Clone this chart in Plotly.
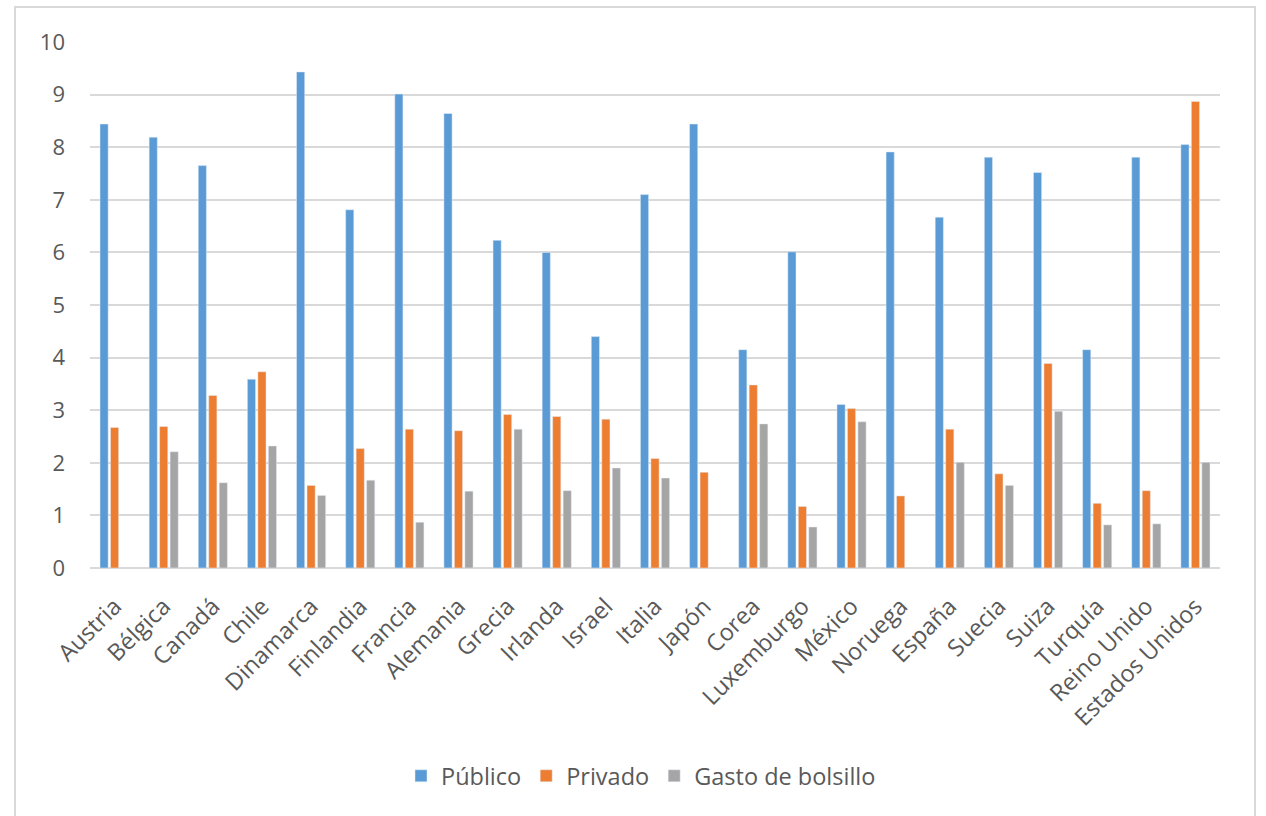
import plotly.graph_objects as go

paises = ["Austria", "Bélgica", "Canadá", "Chile", "Dinamarca", "Finlandia", "Francia",
          "Alemania", "Grecia", "Irlanda", "Israel", "Italia", "Japón", "Corea",
          "Luxemburgo", "México", "Noruega", "España", "Suecia", "Suiza", "Turquía",
          "Reino Unido", "Estados Unidos"]
publico = [8.44, 8.19, 7.65, 3.59, 9.43, 6.81, 9.01, 8.64, 6.23, 6.00, 4.40, 7.10, 8.44,
           4.15, 6.01, 3.11, 7.91, 6.67, 7.81, 7.52, 4.15, 7.81, 8.05]
privado = [2.67, 2.69, 3.28, 3.73, 1.57, 2.27, 2.64, 2.61, 2.92, 2.88, 2.83, 2.08, 1.82,
           3.48, 1.17, 3.03, 1.37, 2.64, 1.79, 3.89, 1.23, 1.47, 8.87]
bolsillo = [None, 2.21, 1.62, 2.32, 1.38, 1.67, 0.87, 1.46, 2.64, 1.47, 1.90, 1.71, None,
            2.74, 0.78, 2.78, None, 2.01, 1.57, 2.98, 0.82, 0.84, 2.01]
y_ticks = [0, 1, 2, 3, 4, 5, 6, 7, 8, 9, 10]

FONT = "Open Sans"
TXT = "#595959"

fig = go.Figure()
fig.add_trace(go.Bar(name="Público", x=paises, y=publico, marker_color="#5B9BD5"))
fig.add_trace(go.Bar(name="Privado", x=paises, y=privado, marker_color="#ED7D31"))
fig.add_trace(go.Bar(name="Gasto de bolsillo", x=paises, y=bolsillo, marker_color="#A5A5A5"))

L, R, T, B = 90, 46, 42, 248
W, H = 1266, 816
pw, ph = W - L - R, H - T - B


def px(xp):
    return (xp - L) / pw


def py(yp):
    return (H - B - yp) / ph


fig.update_layout(
    width=W, height=H,
    margin=dict(l=L, r=R, t=T, b=B),
    paper_bgcolor="white", plot_bgcolor="white",
    barmode="group", bargap=0.36, bargroupgap=0.22,
    font=dict(family=FONT, size=22, color=TXT),
    showlegend=True,
    legend=dict(orientation="h", x=px(641), xanchor="center", y=py(776), yanchor="middle",
                font=dict(size=23.5, color=TXT), itemwidth=30, traceorder="normal"),
    xaxis=dict(tickangle=-45, showgrid=False, showline=False, ticks="",
               ticklabelstandoff=19, tickfont=dict(size=23.5, color=TXT)),
    yaxis=dict(range=[0, 10], tickvals=y_ticks, showgrid=True, gridcolor="#D9D9D9",
               gridwidth=1.5, zeroline=True, zerolinecolor="#D9D9D9", zerolinewidth=1.5,
               showline=False, ticks="", ticklabelstandoff=24,
               tickfont=dict(size=22, color=TXT)),
    shapes=[dict(type="rect", xref="paper", yref="paper",
                 x0=px(15), x1=px(1255), y0=py(830), y1=py(7),
                 line=dict(color="#D9D9D9", width=2), fillcolor="rgba(0,0,0,0)", layer="below")],
)

fig.write_html("out.html")
